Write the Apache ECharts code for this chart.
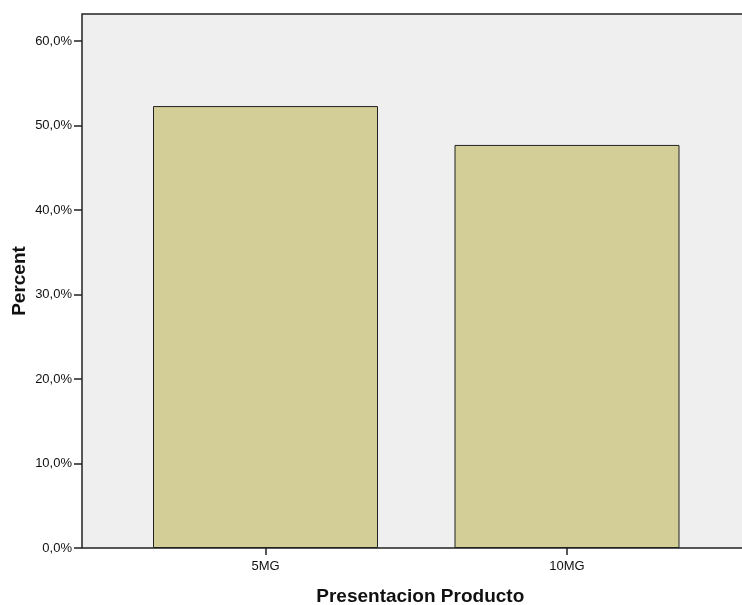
<!DOCTYPE html>
<html>
<head>
<meta charset="utf-8">
<script src="https://cdn.jsdelivr.net/npm/echarts@6/dist/echarts.min.js"></script>
<style>html,body{margin:0;padding:0;background:#fff;}#c{width:742px;height:605px;}</style>
</head>
<body>
<div id="c"></div>
<script>
var categories = ['5MG', '10MG'];
var percentValues = [52.3, 47.7];
var yTicks = [0, 10, 20, 30, 40, 50, 60];

var chart = echarts.init(document.getElementById('c'), null, {renderer: 'canvas'});
var font = '"Liberation Sans", Arial, sans-serif';
chart.setOption({
  animation: false,
  backgroundColor: '#ffffff',
  grid: [
    {left: 82, top: 14, right: -10, bottom: 57, show: true, backgroundColor: '#efefef', borderColor: '#222', borderWidth: 1.5, outerBoundsMode: 'none', containLabel: false},
    {left: 114.75, width: 603, top: 41, bottom: 57, outerBoundsMode: 'none', containLabel: false}
  ],
  xAxis: [
    {gridIndex: 0, type: 'value', show: false, min: 0, max: 1},
    {gridIndex: 1, type: 'category', data: categories,
     axisLine: {show: false},
     axisTick: {show: true, alignWithLabel: true, length: 7, lineStyle: {color: '#222', width: 1.5}},
     axisLabel: {color: '#111', fontFamily: font, fontSize: 13, margin: 12},
     name: 'Presentacion Producto', nameLocation: 'middle', nameGap: 39, nameMoveOverlap: false,
     nameTextStyle: {color: '#111', fontFamily: font, fontSize: 19, fontWeight: 'bold', padding: [0, 0, 0, 8]}}
  ],
  yAxis: [
    {gridIndex: 0, type: 'value', show: false, min: 0, max: 1},
    {gridIndex: 1, type: 'value', min: yTicks[0], max: yTicks[yTicks.length - 1], interval: 10,
     offset: 32.75,
     axisLine: {show: false},
     axisTick: {show: true, length: 8, lineStyle: {color: '#222', width: 1.5}},
     splitLine: {show: false},
     axisLabel: {color: '#111', fontFamily: font, fontSize: 13, margin: 10,
       formatter: function (v) { return v.toFixed(1).replace('.', ',') + '%'; }},
     name: 'Percent', nameLocation: 'middle', nameGap: 53, nameMoveOverlap: false,
     nameTextStyle: {color: '#111', fontFamily: font, fontSize: 19, fontWeight: 'bold', padding: [0, 0, 0, 27]}}
  ],
  series: [{
    type: 'bar', xAxisIndex: 1, yAxisIndex: 1, data: percentValues, barWidth: 225,
    itemStyle: {color: '#d3ce97', borderColor: '#222', borderWidth: 1}
  }]
});
</script>
</body>
</html>
